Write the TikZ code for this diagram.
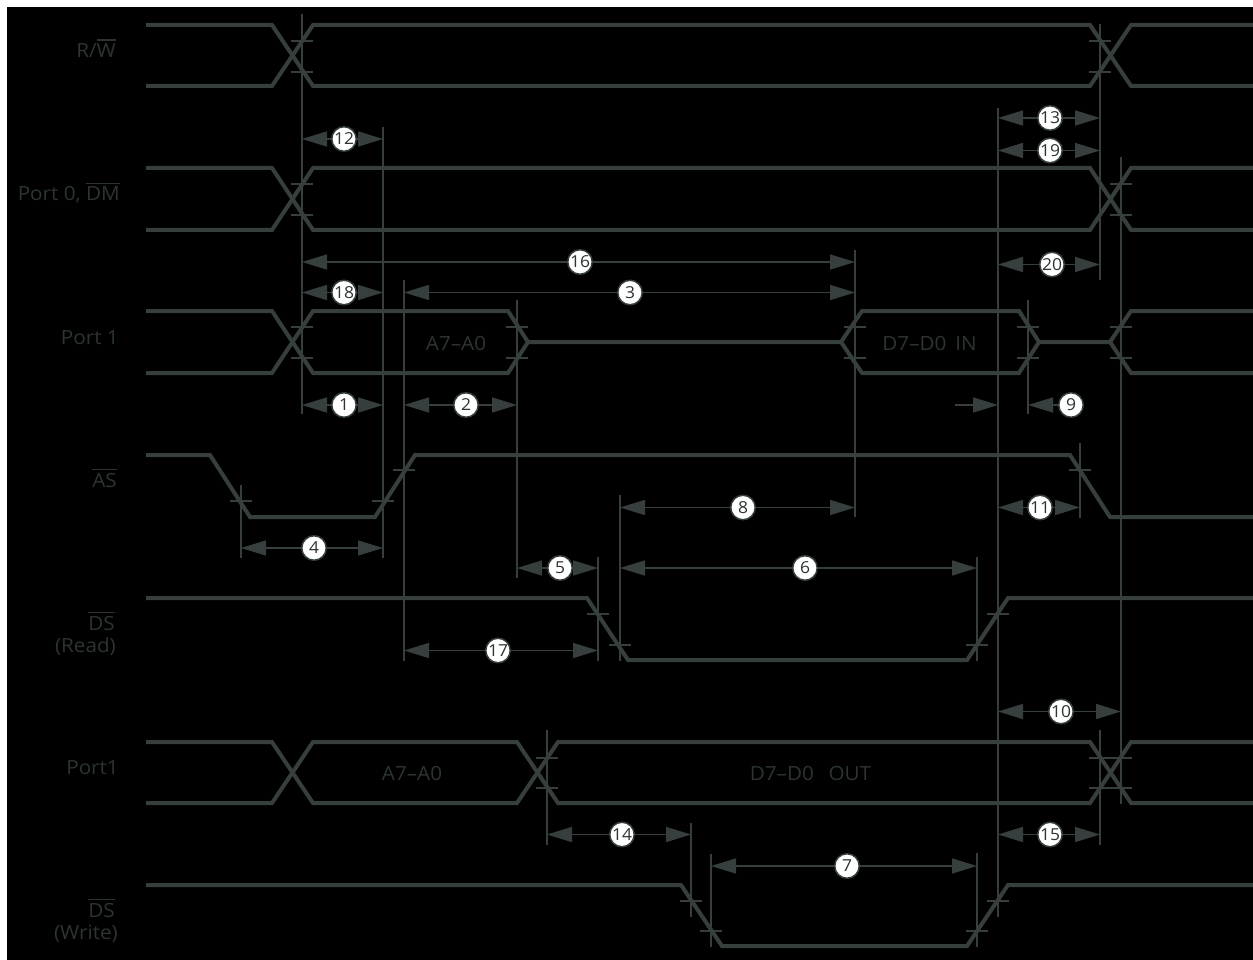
\documentclass[tikz,border=0pt]{standalone}
\usepackage{fontspec}
\setmainfont[FakeStretch=1.06]{Open Sans}
\usetikzlibrary{arrows.meta}
\definecolor{ink}{HTML}{363F3E}
\definecolor{txt}{HTML}{2C3433}
\newcommand{\ovl}[1]{\leavevmode\vbox{\hrule height 1.2pt \kern 3pt\hbox{#1}}}
\newcommand{\dimline}[6]{%
  \coordinate (l#1) at (#2,#4);
  \coordinate (r#1) at (#3,#4);
  \node[num] (n#1) at (#5,#4) {#6};
  \draw[dimarrow] (n#1) -- (l#1);
  \draw[dimarrow] (n#1) -- (r#1);
}
\newcommand{\tck}[2]{\draw[guide] (#1-11,#2) -- (#1+11,#2);}
\newcommand{\gd}[3]{\draw[guide] (#1,#2) -- (#1,#3);}
\tikzset{
  sig/.style={draw=ink,line width=4pt,line join=miter},
  guide/.style={draw=ink,line width=1.7pt},
  dimarrow/.style={draw=ink,line width=1.6pt,-{Triangle[length=25pt,width=15pt,fill=ink]}},
  num/.style={circle,draw=ink,fill=white,line width=1.5pt,inner sep=0pt,minimum size=24.5pt,text=txt,font=\fontsize{16.5}{17}\selectfont},
  lbl/.style={text=txt,font=\fontsize{19.5}{23}\selectfont,inner sep=0pt,anchor=base east},
  inl/.style={text=txt,font=\fontsize{19.5}{23}\selectfont,inner sep=0pt,anchor=base}
}
\begin{document}
\begin{tikzpicture}[x=1pt,y=-1pt]
\useasboundingbox (0,0) rectangle (1253,960);
\fill[white] (0,0) rectangle (1253,960);
\fill[black] (7,7) rectangle (1253,960);
% R/W
\draw[sig] (146,25) -- (272,25) -- (313,86) -- (1090,86) -- (1131,25) -- (1253,25);
\draw[sig] (146,86) -- (272,86) -- (313,25) -- (1090,25) -- (1131,86) -- (1253,86);
% Port 0, DM
\draw[sig] (146,168) -- (272,168) -- (313,230) -- (1090,230) -- (1131,168) -- (1253,168);
\draw[sig] (146,230) -- (272,230) -- (313,168) -- (1090,168) -- (1131,230) -- (1253,230);
% Port 1
\draw[sig] (146,311) -- (272,311) -- (313,373) -- (508,373) -- (528,342) -- (841,342) -- (862,311) -- (1019,311) -- (1039,342) -- (1110,342) -- (1131,311) -- (1253,311);
\draw[sig] (146,373) -- (272,373) -- (313,311) -- (508,311) -- (528,342);
\draw[sig] (841,342) -- (862,373) -- (1019,373) -- (1039,342);
\draw[sig] (1110,342) -- (1131,373) -- (1253,373);
% AS
\draw[sig] (146,455) -- (210,455) -- (250,517) -- (375,517) -- (415,455) -- (1070,455) -- (1110,517) -- (1253,517);
% DS read
\draw[sig] (146,598) -- (587,598) -- (628,660) -- (967,660) -- (1008,598) -- (1253,598);
% Port1 lower
\draw[sig] (146,742) -- (272,742) -- (313,803) -- (517,803) -- (558,742) -- (1090,742) -- (1131,803) -- (1253,803);
\draw[sig] (146,803) -- (272,803) -- (313,742) -- (517,742) -- (558,803) -- (1090,803) -- (1131,742) -- (1253,742);
% DS write
\draw[sig] (146,885) -- (681,885) -- (722,946) -- (967,946) -- (1008,885) -- (1253,885);
% guides
\gd{302}{14}{414}
\gd{383}{127}{558}
\gd{404}{280}{661}
\gd{517}{300}{578}
\gd{855}{250}{517}
\gd{241}{485}{558}
\gd{598}{557}{661}
\gd{620}{495}{661}
\gd{977}{557}{661}
\gd{998}{108}{917}
\gd{1028}{300}{414}
\gd{1080}{443}{518}
\gd{1100}{24}{280}
\gd{1121}{157}{804}
\gd{1100}{730}{845}
\gd{547}{730}{845}
\gd{691}{823}{917}
\gd{711}{854}{947}
\gd{977}{853}{947}
% ticks
\tck{302}{41}\tck{302}{72}\tck{1100}{41}\tck{1100}{72}
\tck{302}{184}\tck{302}{215}\tck{1121}{184}\tck{1121}{215}
\tck{302}{327}\tck{302}{358}\tck{517}{327}\tck{517}{358}
\tck{855}{327}\tck{855}{358}\tck{1028}{327}\tck{1028}{358}
\tck{1121}{327}\tck{1121}{358}
\tck{383}{501}\tck{404}{470}\tck{241}{501}\tck{1080}{470}
\tck{598}{614}\tck{620}{645}\tck{977}{645}\tck{998}{614}
\tck{547}{758}\tck{547}{788}\tck{1100}{758}\tck{1100}{788}\tck{1121}{758}\tck{1121}{788}
\tck{691}{901}\tck{711}{931}\tck{977}{931}\tck{998}{901}
% dimensions
\dimline{12}{302}{383}{139}{344}{12}
\dimline{13}{998}{1100}{118}{1050}{13}
\dimline{19}{998}{1100}{150.5}{1050}{19}
\dimline{16}{302}{855}{262}{580}{16}
\dimline{20}{998}{1100}{264.5}{1052}{20}
\dimline{18}{302}{383}{292.5}{344}{18}
\dimline{3}{404}{855}{292.5}{630}{3}
\dimline{1}{302}{383}{405}{344}{1}
\dimline{2}{404}{517}{405}{466}{2}
\coordinate (a9s) at (955,405);
\coordinate (a9e) at (998,405);
\coordinate (l9) at (1028,405);
\node[num] (n9) at (1071,405) {9};
\draw[dimarrow] (a9s) -- (a9e);
\draw[dimarrow] (n9) -- (l9);
\dimline{4}{241}{383}{548}{314}{4}
\dimline{8}{620}{855}{507.5}{743}{8}
\dimline{5}{517}{598}{568}{560}{5}
\dimline{6}{620}{977}{568}{805}{6}
\dimline{11}{998}{1080}{507.5}{1040}{11}
\dimline{17}{404}{598}{650.5}{498}{17}
\dimline{10}{998}{1121}{711.5}{1061}{10}
\dimline{14}{547}{691}{834.5}{622}{14}
\dimline{15}{998}{1100}{834.5}{1050}{15}
\dimline{7}{711}{977}{866}{847}{7}
% labels
\node[lbl] (rw) at (116,57.5) {R/\ovl{W}};
\node[lbl] (dm) at (120,201) {Port 0, \ovl{DM}};
\node[lbl] (p1) at (119,344) {Port 1};
\node[lbl] (as) at (117,487) {\ovl{AS}};
\node[lbl] (dsr) at (115,630) {\ovl{DS}};
\node[lbl] (dsr2) at (116,652) {(Read)};
\node[lbl] (p2) at (119,774.5) {Port1};
\node[lbl] (dsw) at (115,917) {\ovl{DS}};
\node[lbl] (dsw2) at (118,939) {(Write)};
\node[inl] (a1) at (456,350) {A7–A0};
\node[inl] (d1) at (929.5,350) {D7–D0\hspace{0.45em}IN};
\node[inl] (a2) at (412,780) {A7–A0};
\node[inl] (d2) at (810.5,780) {D7–D0\hspace{0.75em}OUT};
\end{tikzpicture}
\end{document}
